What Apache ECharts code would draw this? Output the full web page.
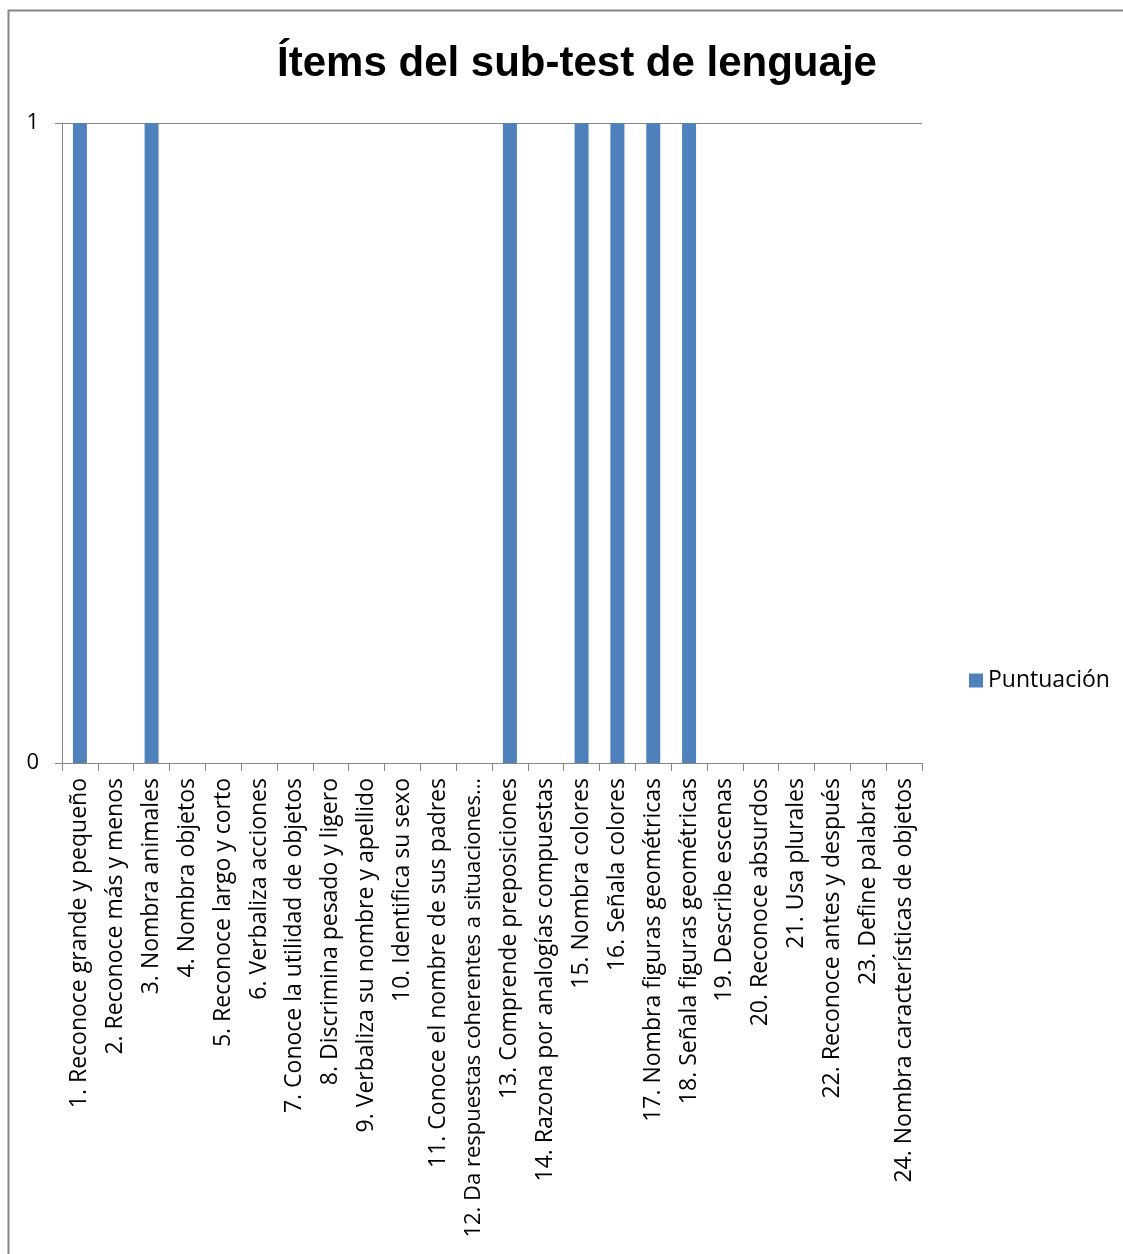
<!DOCTYPE html>
<html>
<head>
<meta charset="utf-8">
<script src="https://cdn.jsdelivr.net/npm/echarts@6/dist/echarts.min.js"></script>
<style>
  html, body { margin: 0; padding: 0; background: #ffffff; }
  #chart { width: 1123px; height: 1254px; }
</style>
</head>
<body>
<div id="chart"></div>
<script>
// Language sub-test items and their scores
const categories = [
  '1. Reconoce grande y pequeño',
  '2. Reconoce más y menos',
  '3. Nombra animales',
  '4. Nombra objetos',
  '5. Reconoce largo y corto',
  '6. Verbaliza acciones',
  '7. Conoce la utilidad de objetos',
  '8. Discrimina pesado y ligero',
  '9. Verbaliza su nombre y apellido',
  '10. Identifica su sexo',
  '11. Conoce el nombre de sus padres',
  '12. Da respuestas coherentes a situaciones…',
  '13. Comprende preposiciones',
  '14. Razona por analogías compuestas',
  '15. Nombra colores',
  '16. Señala colores',
  '17. Nombra figuras geométricas',
  '18. Señala figuras geométricas',
  '19. Describe escenas',
  '20. Reconoce absurdos',
  '21. Usa plurales',
  '22. Reconoce antes y después',
  '23. Define palabras',
  '24. Nombra características de objetos'
];
const puntuacion = [1, 0, 1, 0, 0, 0, 0, 0, 0, 0, 0, 0, 1, 0, 1, 1, 1, 1, 0, 0, 0, 0, 0, 0];
const yTicks = [0, 1];

const FONT = 'Open Sans';
const GRAY = '#868686';
const BLUE = '#4F81BD';

const chart = echarts.init(document.getElementById('chart'), null, { renderer: 'canvas' });
chart.setOption({
  backgroundColor: '#ffffff',
  animation: false,
  title: {
    text: 'Ítems del sub-test de lenguaje',
    left: 572,
    top: 38,
    textAlign: 'center',
    textStyle: { fontFamily: 'Liberation Sans', fontSize: 42, fontWeight: 'bold', color: '#000000' }
  },
  legend: {
    data: ['Puntuación'],
    left: 964,
    top: 664,
    orient: 'vertical',
    itemWidth: 14,
    itemHeight: 14,
    itemGap: 6,
    icon: 'rect',
    textStyle: { fontFamily: FONT, fontSize: 23, color: '#000000' }
  },
  grid: {
    left: 62, right: 201, top: 123, bottom: 491,
    containLabel: false,
    outerBoundsMode: 'none'
  },
  graphic: [{
    type: 'polyline',
    shape: { points: [[8.5, 1254], [8.5, 10.5], [1123, 10.5]] },
    style: { stroke: GRAY, lineWidth: 2, fill: null },
    silent: true
  }],
  xAxis: {
    type: 'category',
    data: categories,
    axisLine: { lineStyle: { color: GRAY, width: 1 } },
    axisTick: { show: true, length: 8, interval: 0, lineStyle: { color: GRAY } },
    axisLabel: {
      interval: 0,
      rotate: 90,
      margin: 15,
      fontFamily: FONT,
      fontSize: 23,
      color: '#000000',
      // the longest label is set a touch smaller so it stays inside the frame
      formatter: (v) => (v.length > 40 ? '{long|' + v + '}' : v),
      rich: { long: { fontFamily: FONT, fontSize: 22, color: '#000000' } }
    }
  },
  yAxis: {
    type: 'value',
    min: yTicks[0],
    max: yTicks[yTicks.length - 1],
    interval: 1,
    axisLine: { show: true, lineStyle: { color: GRAY, width: 1 } },
    axisTick: { show: true, length: 7, inside: false, lineStyle: { color: GRAY } },
    splitLine: { show: true, lineStyle: { color: GRAY, width: 1 } },
    axisLabel: { margin: 23, fontFamily: FONT, fontSize: 22, color: '#000000' }
  },
  series: [{
    name: 'Puntuación',
    type: 'bar',
    data: puntuacion,
    barWidth: 14,
    itemStyle: { color: BLUE }
  }]
});
</script>
</body>
</html>
